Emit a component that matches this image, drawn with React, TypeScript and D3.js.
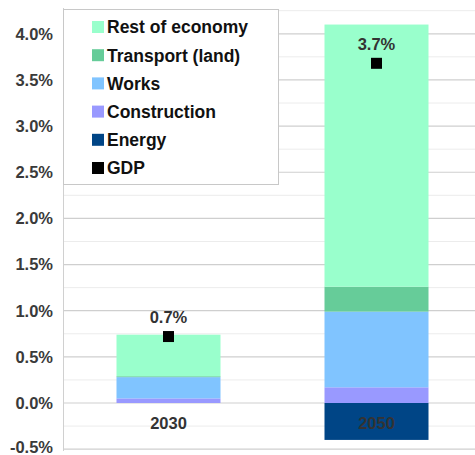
import React from "react";
import * as d3 from "d3";

const years = ["2030", "2050"];
const energy = [0, -0.4];
const construction = [0.05, 0.17];
const works = [0.23, 0.82];
const transport = [0.01, 0.27];
const rest = [0.45, 2.84];
const gdp = [0.72, 3.68];
const gdpLabels = ["0.7%", "3.7%"];
const yTicks = [-0.5, 0, 0.5, 1, 1.5, 2, 2.5, 3, 3.5, 4];
const minorTicks = [-0.25, 0.25, 0.75, 1.25, 1.75, 2.25, 2.75, 3.25, 3.75, 4.25];

const seriesNames = ["Energy", "Construction", "Works", "Transport (land)", "Rest of economy"];
const seriesValues = [energy, construction, works, transport, rest];
const seriesColors = ["#004586", "#9999ff", "#80c4ff", "#66cc99", "#99ffcc"];

const W = 475;
const H = 455;

export default function App() {
  const y = d3.scaleLinear().domain([-0.5, 4.25]).range([449.15, 10.7]);
  const x = d3
    .scaleBand<string>()
    .domain(years)
    .range([64.5, 480.5])
    .paddingInner(0.5)
    .paddingOuter(0.25);

  const rows = years.map((yr, i) => {
    const r: any = { year: yr };
    seriesNames.forEach((n, k) => (r[n] = seriesValues[k][i]));
    return r;
  });
  const stacked = d3
    .stack<any>()
    .keys(seriesNames)
    .offset(d3.stackOffsetDiverging)(rows);

  const legendItems = [
    ...seriesNames.map((n, k) => ({ name: n, color: seriesColors[k] })).reverse(),
    { name: "GDP", color: "#000000" },
  ];

  const font = "'Liberation Sans', Arial, sans-serif";

  return (
    <svg
      width={W}
      height={H}
      style={{ position: "absolute", left: 0, top: 0, background: "#fff" }}
      fontFamily={font}
    >
      {minorTicks.map((t) => (
        <line key={"m" + t} x1={64} x2={W} y1={y(t)} y2={y(t)} stroke="#ececec" strokeWidth={1} />
      ))}
      {yTicks.map((t) => (
        <line key={"g" + t} x1={64} x2={W} y1={y(t)} y2={y(t)} stroke="#cfcfcf" strokeWidth={1.2} />
      ))}
      <line x1={63.5} x2={63.5} y1={8} y2={451} stroke="#d0d0d0" strokeWidth={1} />
      {yTicks.map((t) => (
        <text
          key={"t" + t}
          x={53}
          y={Math.min(y(t), 447)}
          dy="0.36em"
          textAnchor="end"
          fontSize={16.5}
          fontWeight="bold"
          fill="#3a3a3a"
        >
          {t.toFixed(1) + "%"}
        </text>
      ))}

      {stacked.map((s, k) => (
        <g key={s.key} fill={seriesColors[k]}>
          {s.map((d, i) => {
            const y0 = y(d[0]);
            const y1 = y(d[1]);
            const h = Math.abs(y0 - y1);
            if (h < 0.01) return null;
            return (
              <rect
                key={i}
                x={x(years[i])!}
                width={x.bandwidth()}
                y={Math.min(y0, y1)}
                height={h}
              />
            );
          })}
        </g>
      ))}

      {years.map((yr) => (
        <text
          key={"c" + yr}
          x={x(yr)! + x.bandwidth() / 2}
          y={y(0) + 20}
          dy="0.36em"
          textAnchor="middle"
          fontSize={16.5}
          fontWeight="bold"
          fill="#333"
        >
          {yr}
        </text>
      ))}

      {years.map((yr, i) => (
        <g key={"gdp" + yr}>
          <rect
            x={x(yr)! + x.bandwidth() / 2 - 5.5}
            y={y(gdp[i]) - 5.5}
            width={11}
            height={11}
            fill="#000"
          />
          <text
            x={x(yr)! + x.bandwidth() / 2}
            y={y(gdp[i]) - 19}
            dy="0.36em"
            textAnchor="middle"
            fontSize={16.5}
            fontWeight="bold"
            fill="#333"
          >
            {gdpLabels[i]}
          </text>
        </g>
      ))}

      <rect x={63.5} y={9.5} width={215} height={175} fill="#fff" stroke="#c8c8c8" strokeWidth={1} />
      {legendItems.map((it, i) => (
        <g key={it.name} transform={`translate(92, ${27 + i * 28.2})`}>
          <rect x={0} y={-6} width={12} height={12} fill={it.color} />
          <text x={15} y={0} dy="0.36em" fontSize={17.5} fontWeight="bold" fill="#111">
            {it.name}
          </text>
        </g>
      ))}
    </svg>
  );
}
